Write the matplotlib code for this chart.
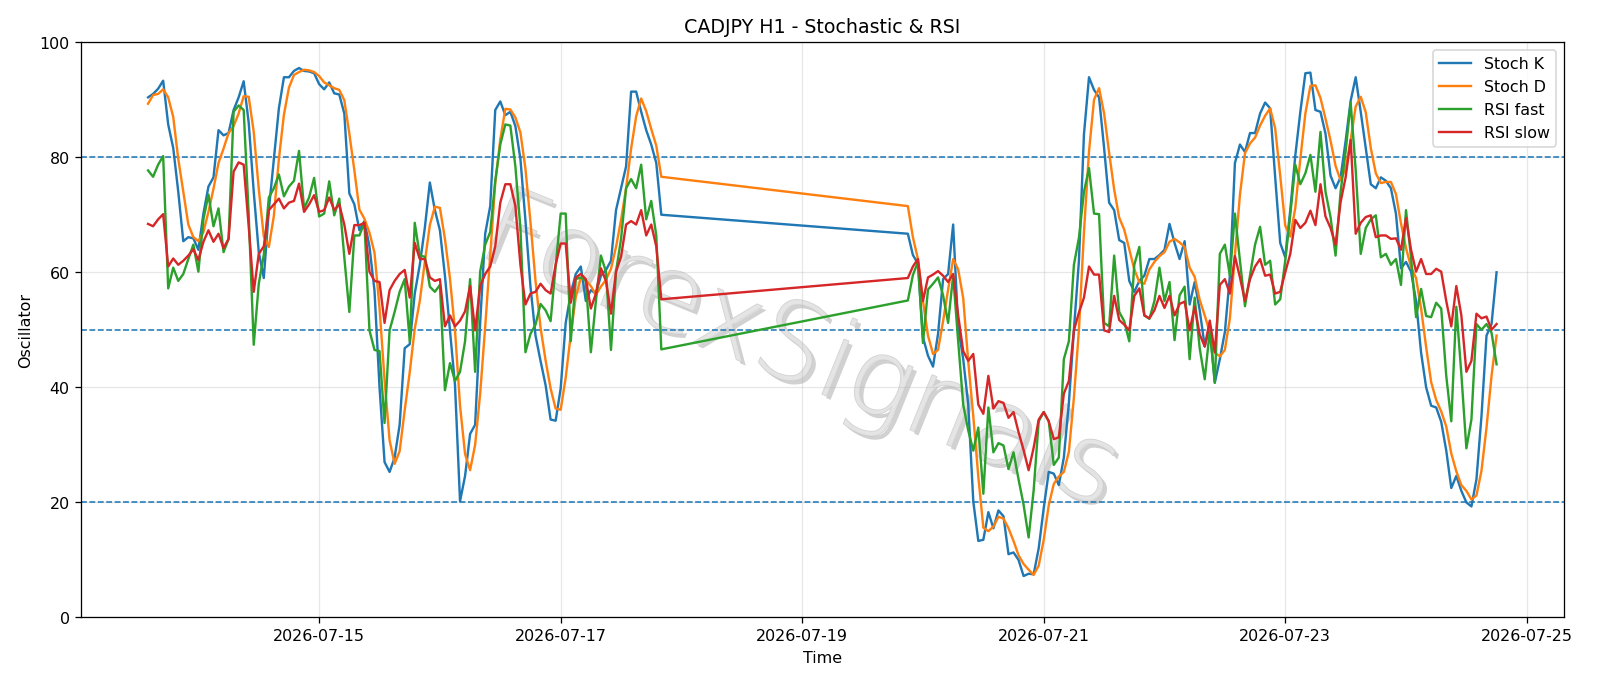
import numpy as np
import pandas as pd
import matplotlib
matplotlib.use("Agg")
import matplotlib.pyplot as plt
import matplotlib.dates as mdates
import matplotlib.patheffects as pe

# hourly bars, weekend gap between the two blocks
start_week1 = "2026-07-13 14:00"
start_week2 = "2026-07-19 21:00"

stoch_k_1 = [
    90.4, 91.0, 91.9, 93.3, 85.7, 81.6, 74.0, 65.4, 66.1, 65.9,
    63.9, 70.2, 74.9, 76.5, 84.7, 83.8, 84.2, 88.2, 90.4, 93.2,
    86.0, 74.0, 63.5, 59.0, 70.8, 79.7, 88.5, 93.9, 93.9, 95.0,
    95.5, 95.0, 94.9, 94.6, 92.7, 91.8, 93.0, 91.1, 90.9, 87.6,
    73.7, 71.8, 67.3, 68.9, 64.5, 56.8, 40.0, 27.0, 25.3, 27.8,
    33.5, 46.8, 47.5, 56.3, 61.3, 67.7, 75.6, 70.8, 67.3, 59.4,
    49.9, 40.4, 20.2, 24.6, 31.9, 33.5, 51.2, 66.7, 71.5, 88.2,
    89.7, 87.3, 87.9, 85.4, 79.7, 69.0, 57.5, 49.0, 44.6, 40.4,
    34.4, 34.2, 39.8, 51.2, 56.3, 59.7, 61.0, 55.0, 56.9, 56.3,
    59.4, 60.4, 62.0, 70.8, 74.6, 78.4, 91.4, 91.4, 87.9, 84.7,
    82.2, 79.0, 70.0,
]
stoch_d_1 = [
    89.3, 90.8, 91.0, 91.8, 90.4, 87.0, 79.7, 74.0, 68.3, 66.1,
    65.4, 67.0, 70.5, 74.5, 79.0, 81.5, 84.2, 85.4, 87.6, 90.6,
    90.5, 84.4, 74.5, 66.2, 64.4, 69.8, 79.7, 87.4, 92.1, 94.3,
    94.8, 95.2, 95.1, 94.8, 94.1, 93.0, 92.5, 92.0, 91.7, 89.9,
    84.1, 77.7, 70.9, 69.3, 66.9, 63.4, 53.8, 41.3, 30.8, 26.7,
    28.9, 36.0, 42.6, 50.2, 55.0, 61.8, 68.2, 71.4, 71.2, 65.8,
    58.9, 49.9, 36.8, 28.4, 25.6, 30.0, 38.9, 50.5, 63.1, 75.5,
    83.1, 88.4, 88.3, 86.9, 84.3, 78.0, 68.7, 58.5, 50.4, 44.7,
    39.8, 36.3, 36.1, 41.7, 49.1, 55.7, 59.0, 58.6, 57.6, 56.1,
    57.5, 58.7, 60.6, 64.4, 69.1, 74.6, 81.5, 87.1, 90.2, 88.0,
    84.9, 82.0, 76.6,
]
rsi_fast_1 = [
    77.7, 76.6, 78.7, 80.2, 57.2, 60.8, 58.5, 59.7, 62.3, 64.8,
    60.1, 69.2, 73.5, 68.0, 71.1, 63.5, 65.8, 87.9, 89.0, 88.2,
    70.0, 47.4, 58.0, 63.0, 73.0, 74.6, 77.0, 73.2, 74.9, 75.9,
    81.1, 71.1, 73.0, 76.4, 69.7, 70.2, 75.8, 69.9, 72.8, 62.6,
    53.1, 66.4, 66.4, 68.6, 49.9, 46.5, 46.3, 33.8, 49.9, 53.1,
    56.6, 58.8, 48.0, 68.6, 62.9, 62.7, 57.5, 56.6, 57.8, 39.5,
    44.2, 41.1, 42.7, 48.0, 58.8, 42.7, 60.1, 64.8, 67.0, 75.9,
    82.2, 85.7, 85.5, 78.4, 67.7, 46.1, 49.3, 50.9, 54.5, 53.4,
    51.5, 61.0, 70.2, 70.2, 48.0, 58.8, 59.1, 58.5, 46.1, 55.0,
    62.9, 60.1, 46.5, 60.1, 65.8, 74.6, 76.2, 74.6, 78.7, 69.2,
    72.4, 66.4, 46.6,
]
rsi_slow_1 = [
    68.4, 68.0, 69.2, 70.1, 61.0, 62.4, 61.3, 62.0, 62.9, 64.0,
    62.1, 65.3, 67.3, 65.3, 66.7, 64.2, 65.8, 77.5, 79.1, 78.7,
    68.0, 56.6, 63.2, 64.5, 70.8, 71.8, 72.8, 71.1, 72.1, 72.4,
    75.4, 70.5, 71.8, 73.4, 70.5, 70.8, 73.0, 70.8, 71.8, 68.3,
    63.2, 68.2, 68.2, 68.6, 60.1, 58.5, 58.3, 51.2, 56.9, 58.5,
    59.7, 60.4, 55.6, 65.1, 62.3, 62.3, 59.1, 58.5, 58.8, 50.6,
    52.5, 50.6, 51.6, 53.2, 57.6, 49.9, 57.6, 59.7, 61.0, 64.5,
    72.1, 75.3, 75.3, 71.5, 61.3, 54.4, 56.3, 56.6, 58.0, 56.9,
    56.3, 61.3, 65.0, 65.0, 54.7, 59.1, 59.7, 58.8, 53.7, 56.3,
    60.7, 58.5, 52.8, 60.1, 62.7, 68.3, 68.9, 68.3, 70.8, 66.4,
    68.3, 64.5, 55.3,
]

stoch_k_2 = [
    66.7, 63.0, 61.5, 48.7, 45.5, 43.6, 49.3, 58.8, 59.7, 68.3,
    50.5, 44.9, 37.0, 20.2, 13.3, 13.5, 18.3, 15.5, 18.6, 17.6,
    11.0, 11.3, 10.0, 7.2, 7.6, 7.5, 12.0, 19.0, 25.3, 25.0,
    23.0, 27.8, 37.3, 50.0, 62.0, 84.0, 93.9, 91.7, 90.4, 81.6,
    72.1, 70.8, 65.6, 65.1, 58.5, 56.6, 58.5, 59.4, 62.3, 62.3,
    63.0, 63.9, 68.4, 65.1, 62.3, 65.4, 54.4, 58.3, 53.4, 47.1,
    50.6, 40.8, 44.9, 49.6, 59.4, 79.0, 82.2, 80.9, 84.2, 84.2,
    87.6, 89.5, 88.5, 76.5, 65.1, 62.6, 70.8, 80.3, 87.9, 94.6,
    94.7, 88.2, 87.9, 84.1, 76.8, 74.6, 76.5, 82.8, 89.8, 93.9,
    87.9, 81.6, 75.3, 74.6, 76.5, 75.9, 74.6, 70.2, 60.7, 61.8,
    60.1, 55.0, 46.0, 40.0, 36.8, 36.5, 34.0, 29.0, 22.5, 24.6,
    22.0, 20.0, 19.3, 24.0, 35.0, 49.0, 51.0, 60.0,
]
stoch_d_2 = [
    71.5, 66.1, 62.3, 55.0, 49.0, 45.8, 46.5, 51.5, 57.0, 62.3,
    60.5, 55.5, 44.5, 35.0, 24.5, 15.6, 15.0, 15.8, 17.5, 17.2,
    15.5, 13.3, 10.8, 9.3, 8.3, 7.4, 9.0, 13.5, 19.5, 23.2,
    24.5, 25.3, 28.8, 38.2, 50.0, 67.0, 81.0, 90.0, 92.0, 87.6,
    80.8, 74.4, 69.5, 67.4, 64.0, 60.5, 58.3, 58.0, 60.5, 61.8,
    62.8, 63.5, 65.3, 65.8, 65.2, 64.4, 60.8, 59.2, 55.2, 52.5,
    49.6, 46.0, 45.4, 46.5, 52.0, 63.0, 73.5, 80.7, 82.4, 83.4,
    85.5, 87.2, 88.5, 85.0, 76.8, 68.1, 66.2, 71.2, 79.7, 87.6,
    92.4, 92.5, 90.3, 86.7, 82.9, 78.5, 76.0, 78.0, 83.0, 88.8,
    90.5, 87.8, 81.6, 77.2, 75.5, 75.7, 75.7, 73.6, 68.5, 64.2,
    60.9, 59.0, 53.7, 47.0, 40.9, 37.8, 35.8, 33.2, 28.5, 25.4,
    23.0, 22.0, 20.5, 21.2, 25.5, 33.0, 42.0, 49.0,
]
rsi_fast_2 = [
    55.1, 59.5, 61.8, 47.7, 57.0, 58.0, 59.1, 56.0, 51.2, 59.4,
    48.0, 37.0, 32.5, 29.0, 33.0, 21.5, 36.5, 28.7, 30.3, 29.9,
    25.8, 28.7, 24.0, 19.6, 13.9, 22.1, 34.1, 35.7, 34.1, 26.5,
    27.8, 44.9, 48.0, 61.3, 66.0, 74.0, 78.1, 70.2, 70.1, 51.2,
    50.6, 62.9, 53.1, 51.5, 48.0, 61.3, 64.4, 52.5, 51.9, 55.0,
    60.8, 55.0, 58.3, 48.2, 56.0, 57.5, 44.9, 55.6, 46.8, 41.4,
    49.9, 40.8, 63.2, 64.8, 59.4, 70.2, 62.0, 54.1, 59.4, 64.8,
    67.9, 61.3, 62.0, 54.4, 55.3, 62.0, 70.0, 78.7, 75.3, 77.2,
    80.4, 74.0, 84.4, 74.0, 69.6, 62.9, 74.0, 81.0, 89.5, 77.8,
    63.2, 67.7, 69.2, 69.9, 62.6, 63.2, 61.3, 62.3, 57.8, 70.8,
    62.6, 52.2, 57.1, 52.4, 52.2, 54.7, 53.7, 42.0, 34.1, 54.0,
    42.3, 29.4, 34.4, 51.0, 50.0, 51.0, 49.5, 44.0,
]
rsi_slow_2 = [
    59.0, 61.0, 62.3, 55.0, 59.1, 59.6, 60.2, 59.4, 58.3, 59.7,
    52.5, 46.3, 44.6, 45.8, 37.0, 35.4, 42.0, 36.3, 37.6, 37.3,
    34.7, 35.7, 32.2, 29.1, 25.6, 29.5, 34.4, 35.7, 34.1, 31.0,
    31.3, 38.9, 41.1, 49.9, 53.0, 55.6, 61.0, 59.6, 59.6, 49.9,
    49.6, 55.9, 51.7, 50.9, 49.9, 55.9, 57.2, 52.5, 52.0, 53.4,
    55.9, 53.8, 55.9, 52.5, 54.5, 54.9, 49.9, 54.0, 49.2, 47.1,
    51.6, 46.1, 57.8, 58.8, 56.3, 62.8, 59.1, 55.0, 58.8, 61.0,
    62.3, 59.4, 59.6, 56.3, 56.6, 60.0, 63.2, 69.1, 67.7, 68.6,
    70.7, 68.2, 75.3, 69.7, 67.7, 64.8, 72.2, 76.5, 83.0, 66.7,
    68.6, 69.6, 69.9, 66.1, 66.4, 66.4, 65.8, 65.9, 63.9, 69.4,
    63.9, 60.1, 62.3, 59.7, 59.7, 60.6, 60.1, 55.0, 50.6, 57.6,
    52.5, 42.7, 44.6, 52.8, 52.0, 52.3, 50.0, 51.0,
]

levels = [80, 50, 20]

t1 = pd.date_range(start_week1, periods=len(stoch_k_1), freq="h")
t2 = pd.date_range(start_week2, periods=len(stoch_k_2), freq="h")
times = t1.append(t2)

df = pd.DataFrame({
    "Stoch K": stoch_k_1 + stoch_k_2,
    "Stoch D": stoch_d_1 + stoch_d_2,
    "RSI fast": rsi_fast_1 + rsi_fast_2,
    "RSI slow": rsi_slow_1 + rsi_slow_2,
}, index=times)

fig, ax = plt.subplots(figsize=(14, 6), dpi=1600 / 14)
fig.subplots_adjust(left=0.0504, right=0.9775, bottom=0.0985, top=0.9375)

for col in df.columns:
    ax.plot(df.index, df[col], label=col, linewidth=1.5, zorder=3)

for lv in levels:
    ax.axhline(lv, linestyle="--", linewidth=1, zorder=2)

ax.set_ylim(0, 100)
ax.grid(True, alpha=0.3)
ax.xaxis.set_major_locator(mdates.DayLocator(bymonthday=[15, 17, 19, 21, 23, 25]))
ax.xaxis.set_major_formatter(mdates.DateFormatter("%Y-%m-%d"))
ax.set_title("CADJPY H1 - Stochastic & RSI")
ax.set_xlabel("Time")
ax.set_ylabel("Oscillator")
ax.legend(loc="upper right")

# watermark, sits under the lines
ax.text(0.485, 0.46, "ForexSignals", transform=ax.transAxes, rotation=-22,
        fontsize=68, fontweight="light", color="#e4e4e4", alpha=0.8,
        ha="center", va="center", zorder=1,
        path_effects=[pe.SimplePatchShadow(offset=(2.5, -2.5), shadow_rgbFace="#9a9a9a", alpha=0.45),
                      pe.withStroke(linewidth=0.8, foreground="#c8c8c8")])

fig.savefig("out.png")
